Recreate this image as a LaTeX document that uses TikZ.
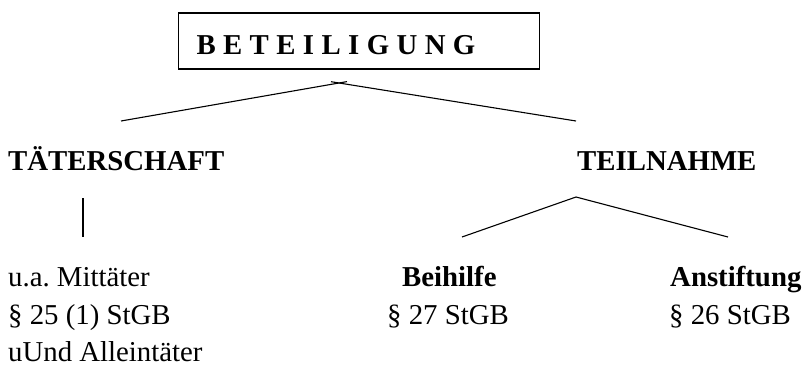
\documentclass[tikz,border=0pt]{standalone}
\usepackage{fontspec}
\setmainfont{Liberation Serif}
\newcommand{\gap}{\hspace{7.4pt}}
\tikzset{
  txt/.style={anchor=base west,inner sep=0pt},
  ast/.style={line width=1.1pt},
  titlebox/.style={draw,line width=1.1pt,anchor=base west,inner xsep=18pt,inner ysep=0pt,
    text width=325pt,align=left,text height=42pt,text depth=14pt}
}
\begin{document}
\frenchspacing
\begin{tikzpicture}[x=1pt,y=1pt,font=\fontsize{28.8}{38}\selectfont]
\useasboundingbox (0,0) rectangle (803,365);
\node[titlebox] (beteiligung) at (178,310)
  {\textbf{B\gap E\gap T\gap E\gap I\gap L\gap I\gap G\gap U\gap N\gap G}};
\node[txt] (taeterschaft) at (8,195) {\textbf{TÄTERSCHAFT}};
\node[txt] (teilnahme) at (577,195) {\textbf{TEILNAHME}};
\node[txt] (mittaeter) at (8,79) {u.a.\ Mittäter};
\node[txt] (para25) at (8,41) {§ 25 (1) StGB};
\node[txt] (allein) at (8,4) {uUnd Alleintäter};
\node[txt] (beihilfe) at (402,79) {\textbf{Beihilfe}};
\node[txt] (para27) at (387,41) {§ 27 StGB};
\node[txt] (anstiftung) at (670,79) {\textbf{Anstiftung}};
\node[txt] (para26) at (669,41) {§ 26 StGB};
% Aeste unter dem Kasten
\coordinate (b1) at (347,283.4);
\coordinate (b2) at (331,283.3);
\coordinate (bl) at (121,244);
\coordinate (br) at (576,244);
\draw[ast] (bl) -- (b1);
\draw[ast] (b2) -- (br);
% Taeterschaft
\coordinate (t1) at (83,167);
\coordinate (t2) at (83,128);
\draw[ast] (t1) -- (t2);
% Teilnahme
\coordinate (n0) at (576,168);
\coordinate (nl) at (462,128);
\coordinate (nr) at (728,128);
\draw[ast] (nl) -- (n0) -- (nr);
\end{tikzpicture}
\end{document}
